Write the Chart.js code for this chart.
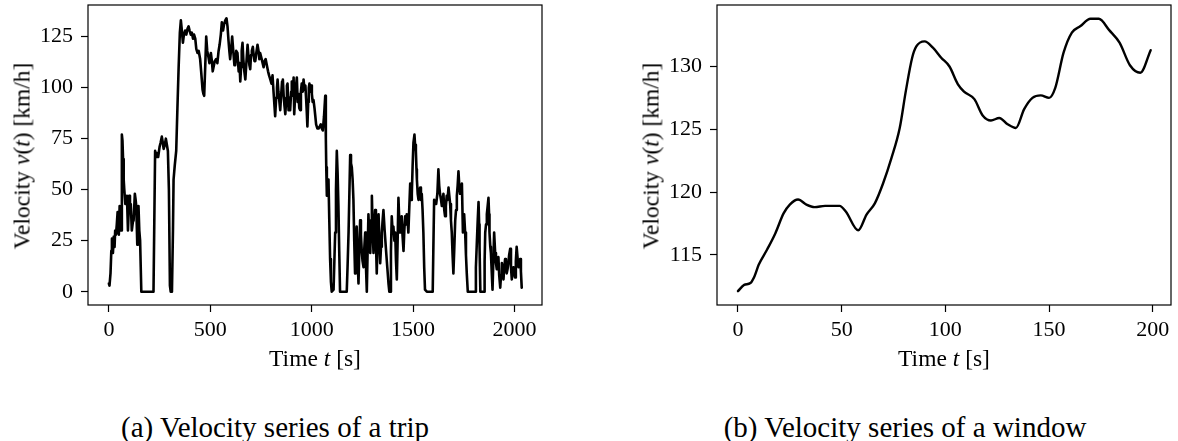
<!DOCTYPE html>
<html>
<head>
<meta charset="utf-8">
<script src="https://cdn.jsdelivr.net/npm/chart.js@4.4.1/dist/chart.umd.min.js"></script>
<style>
  body { margin: 0; background: #fff; }
  #page { position: relative; width: 1178px; height: 441px; overflow: hidden; }
  canvas { position: absolute; top: 0; }
  .lbl { position: absolute; font-family: "Liberation Serif", serif; font-size: 23.5px; color: #000;
         white-space: nowrap; transform: translate(-50%, -50%); }
  .ylbl { transform: translate(-50%, -50%) rotate(-90deg); }
  .cap { font-size: 29px; }
</style>
</head>
<body>
<div id="page">
  <canvas id="trip_canvas" width="560" height="380" style="left:0"></canvas>
  <canvas id="window_canvas" width="578" height="380" style="left:600px"></canvas>

  <div class="lbl ylbl" style="left:22px; top:156px">Velocity <i>v</i>(<i>t</i>) [km/h]</div>
  <div class="lbl" style="left:315px; top:358px">Time <i>t</i> [s]</div>
  <div class="lbl cap" style="left:275px; top:427px">(a) Velocity series of a trip</div>

  <div class="lbl ylbl" style="left:651px; top:156px">Velocity <i>v</i>(<i>t</i>) [km/h]</div>
  <div class="lbl" style="left:944px; top:358px">Time <i>t</i> [s]</div>
  <div class="lbl cap" style="left:905px; top:427px">(b) Velocity series of a window</div>
</div>

<script>
// trip: whole drive, seconds vs km/h
const tripTime = [
  0, 3, 8, 12, 15, 20, 24, 28, 31, 35, 39, 43, 46, 49, 53, 57, 60, 64, 67, 70, 73, 76, 81, 86, 89, 94, 97, 100,
  104, 108, 113, 118, 122, 128, 132, 135, 140, 143, 146, 150, 154, 160, 220, 228, 233, 237, 243, 250, 255, 261,
  266, 270, 276, 281, 286, 291, 296, 301, 305, 311, 316, 319, 325, 332, 338, 344, 350, 355, 360, 365, 370, 376,
  382, 388, 393, 398, 404, 409, 415, 420, 426, 431, 437, 443, 450, 455, 462, 466, 470, 475, 480, 485, 491, 496,
  503, 508, 512, 516, 522, 529, 535, 541, 546, 552, 557, 563, 568, 574, 580, 585, 590, 594, 598, 604, 608, 611,
  615, 619, 623, 628, 634, 640, 644, 648, 652, 655, 659, 663, 668, 673, 678, 684, 688, 693, 697, 701, 705, 710,
  714, 718, 722, 727, 733, 738, 742, 746, 751, 756, 763, 768, 773, 779, 785, 790, 796, 802, 807, 812, 816, 820,
  825, 829, 832, 836, 840, 845, 850, 854, 858, 862, 866, 870, 875, 878, 881, 886, 890, 894, 899, 902, 907, 911,
  914, 918, 922, 927, 931, 935, 939, 943, 947, 951, 956, 960, 965, 969, 973, 976, 979, 983, 986, 989, 993, 997,
  1001, 1005, 1009, 1014, 1018, 1022, 1028, 1034, 1040, 1045, 1050, 1055, 1061, 1067, 1070, 1072, 1075, 1079,
  1083, 1087, 1091, 1095, 1099, 1108, 1112, 1116, 1120, 1124, 1128, 1132, 1136, 1140, 1173, 1177, 1182, 1186,
  1190, 1194, 1198, 1202, 1206, 1210, 1214, 1218, 1222, 1226, 1231, 1235, 1239, 1243, 1247, 1251, 1256, 1260,
  1264, 1268, 1272, 1276, 1280, 1284, 1289, 1293, 1297, 1301, 1305, 1309, 1313, 1317, 1321, 1325, 1330, 1334,
  1338, 1342, 1346, 1350, 1354, 1360, 1367, 1373, 1379, 1383, 1387, 1391, 1395, 1399, 1403, 1408, 1412, 1416,
  1420, 1424, 1428, 1432, 1436, 1440, 1444, 1448, 1453, 1457, 1461, 1465, 1469, 1473, 1477, 1481, 1486, 1490,
  1494, 1498, 1502, 1507, 1510, 1514, 1517, 1519, 1523, 1527, 1531, 1535, 1539, 1543, 1547, 1551, 1555, 1559,
  1568, 1597, 1600, 1604, 1609, 1614, 1620, 1625, 1629, 1633, 1638, 1642, 1646, 1650, 1654, 1658, 1662, 1666,
  1670, 1675, 1679, 1683, 1687, 1691, 1695, 1699, 1703, 1708, 1712, 1716, 1720, 1724, 1728, 1732, 1736, 1741,
  1746, 1749, 1752, 1757, 1761, 1765, 1770, 1806, 1810, 1815, 1819, 1823, 1826, 1828, 1832, 1851, 1853, 1856,
  1860, 1864, 1868, 1872, 1875, 1877, 1881, 1884, 1888, 1892, 1896, 1900, 1905, 1909, 1913, 1917, 1921, 1925,
  1930, 1934, 1938, 1942, 1946, 1950, 1954, 1958, 1962, 1966, 1970, 1974, 1979, 1983, 1987, 1991, 1995, 1999,
  2003, 2007, 2011, 2016, 2020, 2024, 2028, 2032, 2036
];
const tripSpeed = [
  4, 3, 9, 20, 26, 19, 27, 22, 30, 28, 33, 39, 30, 28, 42, 35, 30, 77, 74, 65, 55, 50, 43, 46, 47, 30, 38, 47,
  40, 43, 30, 34, 35, 48, 45, 42, 23, 35, 42, 30, 25, 0, 0, 69, 66, 68, 66, 71, 73, 76,
  73, 70, 72, 75, 72, 69, 50, 3, 0, 0, 30, 55, 62, 69, 90, 110, 127, 133, 128, 122, 126, 128,
  126, 129, 130, 128, 126, 127, 124, 126, 124, 119, 117, 118, 114, 108, 99, 97, 96, 110, 125, 118, 115, 112,
  117, 113, 108, 110, 113, 114, 112, 118, 121, 126, 132, 128, 131, 133, 134, 130, 123, 118, 114, 120, 125, 125,
  116, 111, 111, 118, 117, 108, 112, 103, 110, 118, 122, 114, 108, 104, 112, 121, 116, 111, 109, 116, 118, 120,
  116, 113, 113, 117, 121, 118, 114, 117, 115, 113, 110, 113, 114, 111, 108, 106, 104, 102, 106, 98, 92, 86,
  95, 100, 104, 98, 94, 89, 97, 103, 104, 96, 91, 87, 95, 101, 102, 89, 95, 89, 98, 103, 96, 105,
  87, 95, 100, 105, 93, 97, 90, 89, 98, 102, 98, 104, 99, 101, 94, 88, 81, 93, 100, 102, 98, 101,
  97, 93, 94, 90, 86, 82, 80, 80, 81, 82, 80, 79, 86, 96, 75, 61, 47, 50,
  55, 35, 16, 5, 0, 1, 15, 29, 50, 69, 58, 42, 20, 0, 0, 12, 29, 48,
  67, 63, 61, 55, 45, 25, 9, 20, 32, 18, 4, 20, 35, 28, 20, 15, 12, 22,
  29, 12, 0, 20, 38, 28, 19, 35, 47, 30, 19, 32, 40, 25, 9, 25, 38, 25,
  14, 22, 29, 35, 40, 30, 20, 12, 4, 0, 0, 20, 37, 30, 32, 25, 29, 15,
  6, 25, 46, 35, 29, 33, 37, 28, 20, 30, 37, 33, 38, 35, 29, 40, 53, 45,
  48, 62, 73, 77, 72, 69, 60, 55, 48, 45, 50, 51, 45, 48, 40, 29, 12, 1,
  0, 0, 20, 45, 43, 43, 48, 60, 52, 48, 45, 42, 45, 48, 40, 37, 42, 47,
  45, 51, 47, 43, 35, 29, 18, 9, 20, 35, 40, 47, 52, 59, 52, 48, 50, 53,
  29, 35, 38, 29, 18, 9, 0, 0, 12, 25, 35, 44, 33, 22, 0, 0, 15, 29,
  33, 38, 42, 46, 38, 29, 22, 19, 10, 1, 15, 29, 19, 14, 11, 15, 17, 8,
  2, 8, 14, 10, 6, 12, 16, 12, 9, 11, 14, 18, 21, 12, 6, 10, 12, 9,
  7, 15, 22, 16, 12, 14, 16, 10, 2
];
const tripTimeTicks = [0, 500, 1000, 1500, 2000];
const tripSpeedTicks = [0, 25, 50, 75, 100, 125];

// window: 200 s slice
const windowTime = [
  0, 3, 6, 8, 10, 14, 18, 22, 25, 29, 33, 37, 42, 49, 52, 58, 62, 66, 70, 74, 78, 81, 84, 86, 90, 94, 98,
  102, 106, 109, 114, 118, 122, 126, 130, 134, 138, 142, 146, 150, 153, 157, 161, 165, 170, 174, 179, 184,
  189, 194, 199
];
const windowSpeed = [
  112.1, 112.6, 112.75, 113.3, 114.2, 115.4, 116.7, 118.3, 119.0, 119.4, 119.0, 118.8, 118.9, 118.9, 118.45,
  116.95, 118.2, 119.1, 120.7, 122.7, 125.1, 128.1, 130.7, 131.6, 132.0, 131.5, 130.7, 130.0, 128.6, 128.0,
  127.4, 126.1, 125.7, 125.9, 125.4, 125.1, 126.6, 127.5, 127.7, 127.5, 128.3, 131.1, 132.7, 133.2, 133.8,
  133.8, 132.9, 131.9, 130.1, 129.5, 131.3
];
const windowTimeTicks = [0, 50, 100, 150, 200];
const windowSpeedTicks = [115, 120, 125, 130];

const tickFont = { family: 'Liberation Serif', size: 22 };

// matplotlib style box around the plot area
const frame = {
  id: 'frame',
  afterDraw(chart) {
    const a = chart.chartArea, c = chart.ctx;
    c.save();
    c.strokeStyle = '#000';
    c.lineWidth = 1.2;
    c.strokeRect(a.left, a.top, a.right - a.left, a.bottom - a.top);
    c.restore();
  }
};

function makeAxis(tickValues, min, max, fit, pad) {
  return {
    type: 'linear',
    min: min,
    max: max,
    afterBuildTicks: s => { s.ticks = tickValues.map(v => ({ value: v })); },
    afterFit: s => {
      fit(s);
      // no extra room for half labels, the plot area is placed by hand
      s.paddingTop = 0; s.paddingBottom = 0; s.paddingLeft = 0; s.paddingRight = 0;
    },
    border: { display: false },
    grid: { drawOnChartArea: false, drawTicks: true, tickLength: 7, tickWidth: 1.2, color: '#000' },
    ticks: { color: '#000', font: tickFont, padding: pad, maxRotation: 0, autoSkip: false,
             callback: v => String(v) }
  };
}

function makeChart(el, xs, ys, xAxis, yAxis, padRight, smooth) {
  return new Chart(el, {
    type: 'line',
    data: {
      datasets: [{
        data: xs.map((t, i) => ({ x: t, y: ys[i] })),
        borderColor: '#000',
        borderWidth: smooth ? 2.4 : 2.6,
        pointRadius: 0,
        fill: false,
        tension: 0,
        cubicInterpolationMode: smooth ? 'monotone' : 'default',
        borderJoinStyle: 'round',
        borderCapStyle: 'round'
      }]
    },
    options: {
      responsive: false,
      animation: false,
      layout: { padding: { top: 5, right: padRight, left: 0, bottom: 0 } },
      plugins: { legend: { display: false }, tooltip: { enabled: false } },
      scales: { x: xAxis, y: yAxis }
    },
    plugins: [frame]
  });
}

makeChart(document.getElementById('trip_canvas'), tripTime, tripSpeed,
  makeAxis(tripTimeTicks, -103, 2136, s => { s.height = 75; }, 5),
  makeAxis(tripSpeedTicks, -6.5, 140.5, s => { s.width = 88; }, 8),
  18, false);

makeChart(document.getElementById('window_canvas'), windowTime, windowSpeed,
  makeAxis(windowTimeTicks, -10.1, 208.8, s => { s.height = 75; }, 5),
  makeAxis(windowSpeedTicks, 111.0, 134.9, s => { s.width = 117; }, 8),
  7, true);
</script>
</body>
</html>
